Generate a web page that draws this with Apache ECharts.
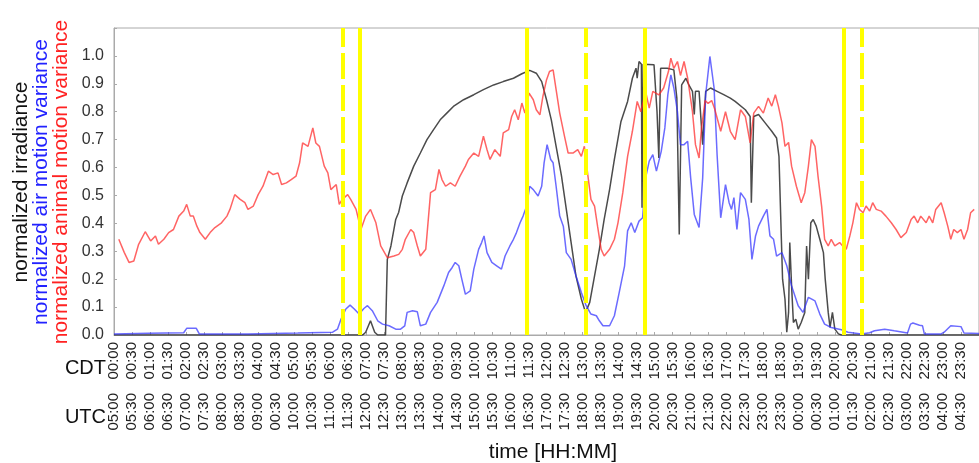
<!DOCTYPE html>
<html>
<head>
<meta charset="utf-8">
<script src="https://cdn.jsdelivr.net/npm/echarts@6/dist/echarts.min.js"></script>
<style>
html,body{margin:0;padding:0;background:#fff;}
#c{width:979px;height:463px;}
</style>
</head>
<body>
<div id="c"></div>
<script>
// time in minutes after 00:00 CDT
const cdtLabels = ['00:00','00:30','01:00','01:30','02:00','02:30','03:00','03:30','04:00','04:30','05:00','05:30','06:00','06:30','07:00','07:30','08:00','08:30','09:00','09:30','10:00','10:30','11:00','11:30','12:00','12:30','13:00','13:30','14:00','14:30','15:00','15:30','16:00','16:30','17:00','17:30','18:00','18:30','19:00','19:30','20:00','20:30','21:00','21:30','22:00','22:30','23:00','23:30'];
const utcLabels = ['05:00','05:30','06:00','06:30','07:00','07:30','08:00','08:30','09:00','00:30','10:00','10:30','11:00','11:30','12:00','12:30','13:00','13:30','14:00','14:30','15:00','15:30','16:00','16:30','17:00','17:30','18:00','18:30','19:00','19:30','20:00','20:30','21:00','21:30','22:00','22:30','23:00','23:30','00:00','00:30','01:00','01:30','02:00','02:30','03:00','03:30','04:00','04:30'];
const yTicks = [0,0.1,0.2,0.3,0.4,0.5,0.6,0.7,0.8,0.9,1.0];

const solidEvents = [409, 687, 883, 1215];
const dashedEvents = [381, 786, 1244];

const irradiance = [[0,0],[414,0],[419,.01],[427,.051],[434,.01],[439,0],[452,0],[455,.271],[461,.319],[469,.414],[474,.44],[480,.498],[488,.545],[499,.605],[510,.652],[521,.70],[532,.736],[543,.771],[554,.795],[565,.819],[582,.843],[599,.861],[615,.879],[632,.896],[648,.908],[665,.92],[679,.936],[692,.948],[703,.938],[712,.908],[720,.843],[728,.771],[736,.676],[745,.569],[753,.45],[761,.331],[769,.212],[778,.129],[785,.081],[792,.117],[800,.212],[808,.307],[816,.414],[825,.521],[833,.629],[844,.765],[855,.837],[863,.92],[869,.956],[871,.92],[874,.98],[878,.97],[879,.456],[881,.97],[899,.968],[904,.80],[907,.634],[910,.956],[921,.956],[932,.95],[937,.849],[941,.36],[945,.896],[952,.92],[957,.896],[963,.873],[966,.79],[968,.873],[974,.873],[980,.682],[985,.873],[993,.885],[1004,.873],[1015,.861],[1026,.849],[1034,.837],[1051,.807],[1059,.783],[1061,.474],[1065,.783],[1073,.79],[1084,.76],[1095,.73],[1103,.706],[1107,.64],[1111,.343],[1113,.2],[1117,.129],[1120,.01],[1123,.081],[1125,.331],[1128,.176],[1131,.045],[1135,.057],[1139,.021],[1144,.045],[1150,.081],[1153,.319],[1156,.2],[1160,.402],[1164,.414],[1169,.39],[1175,.343],[1181,.295],[1184,.2],[1189,.081],[1192,.027],[1196,.081],[1200,.021],[1206,.004],[1211,0],[1440,0]];

const airMotion = [[0,.004],[58,.006],[116,.008],[121,.024],[137,.024],[142,.004],[223,.004],[306,.007],[364,.01],[372,.021],[378,.057],[386,.093],[393,.107],[400,.093],[408,.075],[416,.095],[422,.105],[430,.087],[439,.051],[447,.039],[458,.033],[469,.021],[477,.021],[484,.033],[488,.081],[497,.087],[505,.083],[510,.033],[519,.039],[527,.081],[538,.117],[549,.176],[557,.224],[563,.242],[568,.26],[574,.248],[579,.2],[585,.146],[593,.158],[599,.236],[607,.307],[612,.331],[616,.355],[621,.295],[629,.26],[637,.248],[645,.236],[651,.283],[659,.319],[665,.343],[670,.367],[676,.402],[681,.426],[687,.462],[692,.533],[698,.521],[706,.498],[712,.533],[716,.617],[721,.682],[727,.629],[731,.617],[736,.533],[742,.426],[748,.39],[753,.295],[761,.271],[769,.212],[778,.152],[786,.105],[794,.075],[803,.069],[808,.051],[814,.033],[825,.033],[833,.069],[841,.152],[850,.248],[855,.373],[861,.402],[867,.367],[874,.408],[880,.42],[885,.563],[891,.623],[897,.646],[903,.587],[911,.658],[917,.742],[922,.861],[927,.932],[932,.885],[938,.80],[943,.682],[949,.682],[955,.694],[960,.563],[966,.432],[974,.385],[980,.563],[985,.861],[992,.998],[999,.885],[1004,.646],[1010,.42],[1018,.539],[1024,.474],[1028,.45],[1032,.492],[1037,.378],[1043,.51],[1051,.486],[1057,.414],[1062,.271],[1068,.355],[1073,.39],[1081,.426],[1087,.45],[1092,.355],[1098,.343],[1103,.283],[1112,.295],[1120,.248],[1128,.176],[1139,.105],[1147,.081],[1156,.135],[1167,.122],[1175,.075],[1183,.039],[1194,.027],[1211,.019],[1222,.01],[1244,.004],[1258,.008],[1266,.015],[1283,.021],[1299,.015],[1321,.007],[1326,.039],[1330,.043],[1341,.035],[1346,.033],[1349,.004],[1377,.004],[1382,.01],[1393,.033],[1410,.03],[1415,.007],[1440,.005]];

const animalMotion = [[8,.343],[17,.296],[25,.26],[33,.265],[41,.325],[52,.37],[61,.337],[69,.355],[74,.325],[83,.343],[91,.367],[99,.378],[108,.426],[116,.444],[121,.468],[127,.426],[132,.426],[138,.39],[143,.367],[152,.343],[160,.367],[168,.385],[179,.402],[188,.426],[193,.45],[201,.503],[210,.486],[218,.474],[223,.45],[232,.462],[240,.503],[248,.533],[257,.587],[265,.575],[273,.581],[279,.539],[287,.545],[295,.557],[303,.569],[309,.617],[314,.688],[323,.676],[331,.742],[336,.688],[342,.676],[350,.605],[356,.581],[361,.521],[370,.539],[375,.468],[380,.486],[389,.503],[394,.486],[403,.45],[411,.378],[419,.426],[427,.45],[436,.402],[444,.319],[455,.277],[466,.283],[474,.289],[480,.307],[485,.343],[494,.378],[499,.367],[505,.319],[510,.283],[519,.307],[527,.51],[535,.521],[541,.593],[546,.557],[552,.533],[560,.545],[568,.533],[576,.569],[585,.605],[590,.629],[599,.652],[607,.64],[615,.712],[621,.664],[626,.629],[634,.664],[643,.64],[648,.724],[657,.736],[662,.783],[667,.807],[673,.771],[679,.831],[684,.795],[691,.867],[698,.843],[703,.807],[709,.789],[714,.855],[720,.914],[725,.944],[731,.95],[736,.879],[742,.795],[750,.712],[756,.652],[764,.652],[772,.664],[778,.64],[783,.676],[789,.569],[794,.486],[800,.462],[805,.39],[811,.307],[816,.283],[825,.307],[833,.343],[839,.402],[847,.51],[855,.64],[863,.73],[871,.837],[877,.80],[885,.873],[891,.813],[897,.873],[907,.86],[915,.885],[923,.944],[927,.992],[932,.955],[938,.98],[943,.93],[949,.98],[955,.92],[963,.80],[968,.682],[974,.634],[978,.74],[984,.84],[989,.83],[995,.84],[1000,.81],[1010,.73],[1018,.80],[1026,.73],[1034,.70],[1043,.807],[1051,.783],[1059,.688],[1065,.795],[1073,.819],[1081,.795],[1089,.849],[1095,.82],[1101,.861],[1106,.82],[1112,.76],[1117,.676],[1123,.69],[1128,.605],[1136,.533],[1144,.474],[1150,.51],[1156,.605],[1161,.70],[1167,.676],[1172,.569],[1178,.462],[1183,.343],[1189,.319],[1194,.343],[1200,.319],[1208,.331],[1213,.319],[1219,.307],[1225,.355],[1230,.402],[1236,.474],[1241,.45],[1247,.438],[1252,.462],[1258,.444],[1263,.474],[1269,.45],[1277,.444],[1285,.426],[1294,.402],[1302,.378],[1310,.349],[1319,.367],[1327,.414],[1332,.426],[1338,.402],[1343,.426],[1352,.402],[1357,.426],[1363,.402],[1368,.45],[1377,.474],[1382,.438],[1388,.39],[1393,.343],[1398,.378],[1404,.367],[1410,.378],[1415,.343],[1421,.378],[1426,.438],[1432,.45]];

const FONT = "'Liberation Sans', Arial, sans-serif";
const chart = echarts.init(document.getElementById('c'), null, {renderer: 'canvas'});

const eventLines = solidEvents.map(t => ({xAxis: t, lineStyle: {type: 'solid'}}))
  .concat(dashedEvents.map(t => ({xAxis: t, lineStyle: {type: [26, 6]}})));

function xAxisBase(labels, offset, showLine) {
  return {
    type: 'value', min: 0, max: 1440, interval: 30, position: 'bottom', offset: offset,
    axisLine: {show: showLine, onZero: false, lineStyle: {color: '#aaa', width: 1}},
    axisTick: {show: showLine, inside: true, length: 3, lineStyle: {color: '#aaa'}},
    splitLine: {show: false},
    axisLabel: {
      rotate: 90, margin: 7, fontSize: 15, color: '#222', fontFamily: FONT,
      showMinLabel: true, showMaxLabel: true, hideOverlap: false,
      formatter: v => { const i = Math.round(v / 30); return (Math.abs(v - i * 30) < 0.01 && labels[i]) ? labels[i] : ''; }
    }
  };
}

chart.setOption({
  animation: false,
  backgroundColor: '#fff',
  grid: {left: 114, right: -6, top: 28, bottom: 128, show: true, borderColor: '#aaa', borderWidth: 1, containLabel: false},
  xAxis: [xAxisBase(cdtLabels, 0, true), xAxisBase(utcLabels, 51, false)],
  yAxis: {
    type: 'value', min: 0, max: 1.1, interval: 0.1,
    axisLine: {show: true, lineStyle: {color: '#aaa'}},
    axisTick: {show: true, inside: true, length: 3, lineStyle: {color: '#aaa'}},
    splitLine: {show: false},
    axisLabel: {
      fontSize: 16, color: '#333', margin: 10, fontFamily: FONT,
      formatter: v => { const t = yTicks.find(k => Math.abs(k - v) < 1e-6); return t === undefined ? '' : t.toFixed(1); }
    }
  },
  series: [
    {name: 'normalized irradiance', type: 'line', data: irradiance, showSymbol: false, symbol: 'none',
     lineStyle: {color: 'rgba(30,30,30,0.8)', width: 1.5}, z: 2},
    {name: 'normalized air motion variance', type: 'line', data: airMotion, showSymbol: false, symbol: 'none',
     lineStyle: {color: 'rgba(50,50,255,0.72)', width: 1.5}, z: 3},
    {name: 'normalized animal motion variance', type: 'line', data: animalMotion, showSymbol: false, symbol: 'none',
     lineStyle: {color: 'rgba(255,40,40,0.72)', width: 1.5}, z: 4,
     markLine: {silent: true, symbol: ['none', 'none'], label: {show: false}, animation: false,
       lineStyle: {color: '#ffff00', width: 4}, data: eventLines}}
  ],
  graphic: [
    {type: 'text', x: 21, y: 182, rotation: Math.PI / 2,
     style: {text: 'normalized irradiance', fill: '#111', fontSize: 21, fontFamily: FONT, textAlign: 'center', textVerticalAlign: 'middle'}},
    {type: 'text', x: 41, y: 182, rotation: Math.PI / 2,
     style: {text: 'normalized air motion variance', fill: '#2222ff', fontSize: 21, fontFamily: FONT, textAlign: 'center', textVerticalAlign: 'middle'}},
    {type: 'text', x: 61, y: 182, rotation: Math.PI / 2,
     style: {text: 'normalized animal motion variance', fill: '#ff2222', fontSize: 21, fontFamily: FONT, textAlign: 'center', textVerticalAlign: 'middle'}},
    {type: 'text', x: 106, y: 368,
     style: {text: 'CDT', fill: '#111', fontSize: 20, fontFamily: FONT, textAlign: 'right', textVerticalAlign: 'middle'}},
    {type: 'text', x: 106, y: 417,
     style: {text: 'UTC', fill: '#111', fontSize: 20, fontFamily: FONT, textAlign: 'right', textVerticalAlign: 'middle'}},
    {type: 'text', x: 553, y: 452,
     style: {text: 'time [HH:MM]', fill: '#111', fontSize: 21, fontFamily: FONT, textAlign: 'center', textVerticalAlign: 'middle'}}
  ]
});
</script>
</body>
</html>
